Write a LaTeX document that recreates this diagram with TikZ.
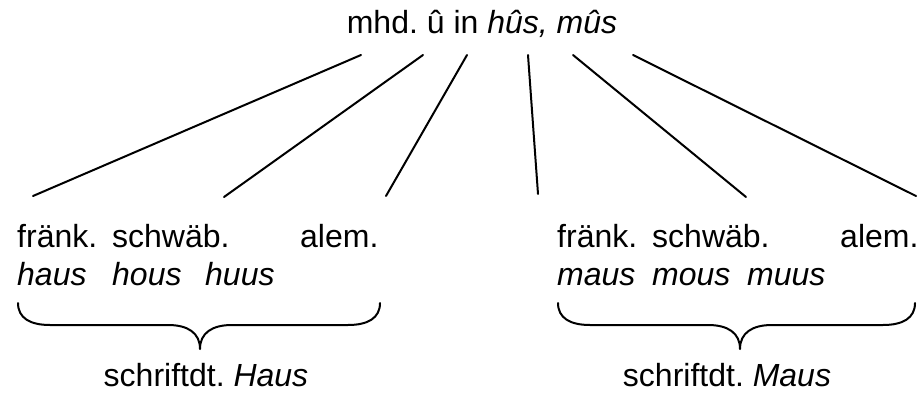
\documentclass[tikz,border=0pt]{standalone}
\usepackage{fontspec}
\setmainfont{Liberation Sans}
\frenchspacing
\begin{document}
\begin{tikzpicture}[x=1pt,y=-1pt,
  lbl/.style={inner sep=0pt,anchor=base west,font=\fontsize{32}{38}\selectfont},
  ctr/.style={inner sep=0pt,anchor=base,font=\fontsize{32}{38}\selectfont},
  link/.style={line width=2pt,line cap=round},
  brace/.style={line width=2pt,line cap=round,line join=round}]
  % canvas
  \fill[white] (0,0) rectangle (917,398);
  \useasboundingbox (0,0) rectangle (917,398);

  % Middle High German source
  \node[ctr] (mhd) at (482,34) {mhd. û in \textit{hûs, mûs}};

  % left group: Haus
  \node[lbl] (lfr) at (17,247) {fränk.};
  \node[lbl] (lsw) at (112,247) {schwäb.};
  \node[lbl] (lal) at (300,247) {alem.};
  \node[lbl] (lf2) at (17,285) {\textit{haus}};
  \node[lbl] (ls2) at (112,285) {\textit{hous}};
  \node[lbl] (la2) at (205,285) {\textit{huus}};
  \node[ctr] (haus) at (206,386) {schriftdt. \textit{Haus}};

  % right group: Maus
  \node[lbl] (rfr) at (557,247) {fränk.};
  \node[lbl] (rsw) at (652,247) {schwäb.};
  \node[lbl] (ral) at (840,247) {alem.};
  \node[lbl] (rf2) at (557,285) {\textit{maus}};
  \node[lbl] (rs2) at (652,285) {\textit{mous}};
  \node[lbl] (ra2) at (747,285) {\textit{muus}};
  \node[ctr] (maus) at (727,386) {schriftdt. \textit{Maus}};

  % line ends
  \coordinate (t1) at (361,55);  \coordinate (b1) at (33,196);
  \coordinate (t2) at (423,55);  \coordinate (b2) at (224,197);
  \coordinate (t3) at (467,55);  \coordinate (b3) at (386,196);
  \coordinate (t4) at (528,55);  \coordinate (b4) at (538,194);
  \coordinate (t5) at (573,55);  \coordinate (b5) at (746,197);
  \coordinate (t6) at (633,55);  \coordinate (b6) at (916,196);

  \foreach \i in {1,...,6} \draw[link] (t\i) -- (b\i);

  % braces
  \draw[brace] (18,303) .. controls (18,318) and (30,325) .. (50,325)
    -- (168,325) .. controls (188,325) and (200,333) .. (200,349)
    .. controls (200,333) and (212,325) .. (232,325)
    -- (348,325) .. controls (368,325) and (380,318) .. (380,303);
  \draw[brace] (558,303) .. controls (558,318) and (570,325) .. (590,325)
    -- (708,325) .. controls (728,325) and (740,333) .. (740,349)
    .. controls (740,333) and (752,325) .. (772,325)
    -- (883,325) .. controls (903,325) and (915,318) .. (915,303);
\end{tikzpicture}
\end{document}
